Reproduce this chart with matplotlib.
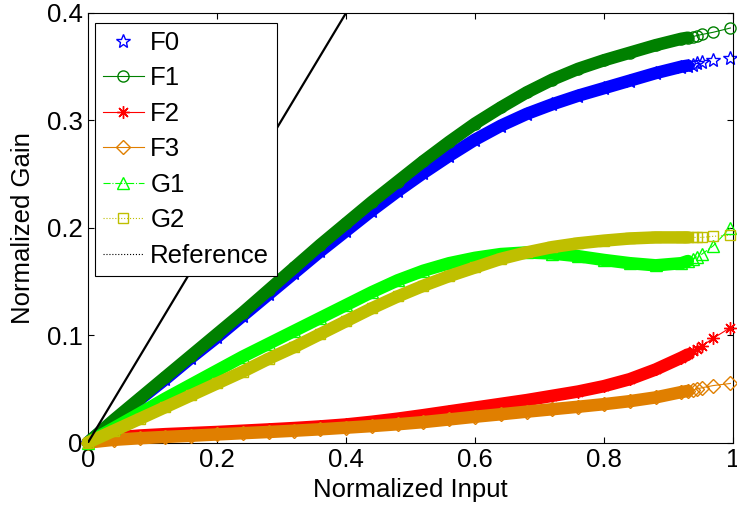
import numpy as np
import matplotlib.pyplot as plt
from matplotlib.lines import Line2D

plt.rcParams['font.family'] = ['Liberation Sans', 'DejaVu Sans']
plt.rcParams['font.size'] = 18.5

# normalized input samples (dense up to ~0.93, then sparse)
x_in = [0.0, 0.04, 0.08, 0.12, 0.16, 0.20, 0.24, 0.28, 0.32, 0.36,
        0.40, 0.44, 0.48, 0.52, 0.56, 0.60, 0.64, 0.68, 0.72, 0.76,
        0.80, 0.84, 0.88, 0.92, 0.93, 0.938, 0.944, 0.952, 0.969, 0.996]

F0 = [0.0, 0.020, 0.040, 0.059, 0.079, 0.098, 0.118, 0.138, 0.158, 0.178,
      0.197, 0.216, 0.234, 0.251, 0.267, 0.282, 0.295, 0.306, 0.315, 0.323,
      0.330, 0.337, 0.344, 0.350, 0.351, 0.352, 0.353, 0.354, 0.356, 0.358]

F1 = [0.0, 0.021, 0.041, 0.061, 0.081, 0.101, 0.121, 0.142, 0.163, 0.184,
      0.204, 0.224, 0.243, 0.262, 0.280, 0.297, 0.312, 0.326, 0.338, 0.348,
      0.356, 0.363, 0.370, 0.376, 0.377, 0.378, 0.379, 0.380, 0.382, 0.386]

F2 = [0.0, 0.0045, 0.0065, 0.0078, 0.0088, 0.0098, 0.011, 0.0122, 0.0135, 0.015,
      0.0168, 0.0193, 0.0222, 0.0255, 0.029, 0.0325, 0.036, 0.0395, 0.0435, 0.0475,
      0.0525, 0.059, 0.068, 0.079, 0.082, 0.085, 0.087, 0.090, 0.097, 0.107]

F3 = [0.0, 0.0025, 0.004, 0.0052, 0.0063, 0.0075, 0.0087, 0.0098, 0.011, 0.0123,
      0.0138, 0.0153, 0.017, 0.019, 0.0215, 0.024, 0.0263, 0.0287, 0.031, 0.0333,
      0.0357, 0.0385, 0.042, 0.047, 0.048, 0.049, 0.050, 0.051, 0.053, 0.055]

G1 = [0.0, 0.0135, 0.027, 0.041, 0.054, 0.067, 0.080, 0.092, 0.104, 0.116,
      0.128, 0.140, 0.151, 0.160, 0.167, 0.172, 0.1755, 0.177, 0.176, 0.1735,
      0.170, 0.167, 0.165, 0.167, 0.169, 0.171, 0.173, 0.1755, 0.183, 0.200]

G2 = [0.0, 0.011, 0.022, 0.033, 0.044, 0.055, 0.066, 0.078, 0.089, 0.101,
      0.113, 0.125, 0.136, 0.146, 0.155, 0.163, 0.171, 0.177, 0.182, 0.1855,
      0.188, 0.190, 0.191, 0.191, 0.191, 0.191, 0.191, 0.191, 0.192, 0.193]

ref_x = [0.0, 1.0]
ref_y = [0.0, 1.0]

labels = ['F0', 'F1', 'F2', 'F3', 'G1', 'G2']
series = [F0, F1, F2, F3, G1, G2]
colors = ['#0000ff', '#008000', '#ff0000', '#e07f00', '#00ff00', '#bfbf00']
markers = ['*', 'o', (8, 2, 0), 'D', '^', 's']
msizes = [10, 8, 9, 7, 9, 7]
lstyles = ['none', '-', '-', '-', '-.', ':']

n_band = 25   # samples drawn as a solid band of overlapping markers

x_arr = np.array(x_in)

fig = plt.figure(figsize=(7.37, 5.07), dpi=100)
ax = fig.add_axes([0.1194, 0.1272, 0.8752, 0.8472])

handles = []
for k in range(len(series)):
    y = np.array(series[k])
    ax.plot(x_arr[:n_band], y[:n_band], color=colors[k], lw=9,
            solid_capstyle='round', solid_joinstyle='round',
            zorder=2 + k, clip_on=False)
    h, = ax.plot(x_arr, y, color=colors[k], ls=lstyles[k], lw=0.8,
                 marker=markers[k], ms=msizes[k], mfc='none', mew=1.0,
                 zorder=2 + k, clip_on=False, label=labels[k])
    handles.append(h)

ax.plot(ref_x, ref_y, color='k', lw=1.6, zorder=10)
handles.append(Line2D([], [], color='k', ls=':', lw=0.8, label='Reference'))

ax.set_xlim(0, 1)
ax.set_ylim(0, 0.4)
ax.set_xticks([0, 0.2, 0.4, 0.6, 0.8, 1])
ax.set_xticklabels(['0', '0.2', '0.4', '0.6', '0.8', '1'])
ax.set_yticks([0, 0.1, 0.2, 0.3, 0.4])
ax.set_yticklabels(['0', '0.1', '0.2', '0.3', '0.4'])
ax.tick_params(direction='in', length=4, width=0.8, top=True, right=True, pad=4)
for s in ax.spines.values():
    s.set_linewidth(0.8)

ax.set_xlabel('Normalized Input', labelpad=4)
ax.set_ylabel('Normalized Gain', labelpad=8)

leg = ax.legend(handles=handles, loc='upper left', bbox_to_anchor=(0.011, 0.977),
                borderaxespad=0, fancybox=False, framealpha=1, edgecolor='k',
                labelspacing=0.45, handlelength=1.6, handletextpad=0.25,
                borderpad=0.3)
leg.get_frame().set_linewidth(0.8)
leg.set_zorder(20)

fig.savefig('out.png', dpi=100)
